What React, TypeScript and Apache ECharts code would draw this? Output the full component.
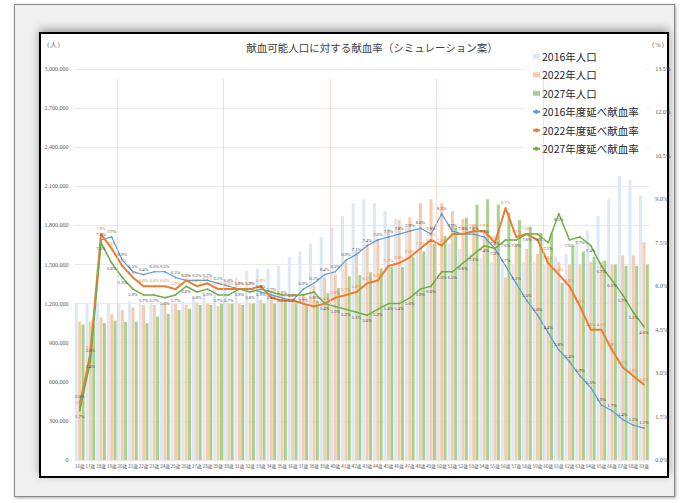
import React, { useEffect, useRef } from "react";
import * as echarts from "echarts";

const categories = [
  "16歳", "17歳", "18歳", "19歳", "20歳", "21歳", "22歳", "23歳", "24歳", "25歳",
  "26歳", "27歳", "28歳", "29歳", "30歳", "31歳", "32歳", "33歳", "34歳", "35歳",
  "36歳", "37歳", "38歳", "39歳", "40歳", "41歳", "42歳", "43歳", "44歳", "45歳",
  "46歳", "47歳", "48歳", "49歳", "50歳", "51歳", "52歳", "53歳", "54歳", "55歳",
  "56歳", "57歳", "58歳", "59歳", "60歳", "61歳", "62歳", "63歳", "64歳", "65歳",
  "66歳", "67歳", "68歳", "69歳",
];

// population (人)
const pop2016 = [
  1200000, 1200000, 1210000, 1205000, 1195000, 1215000, 1195000, 1195000, 1200000, 1205000,
  1215000, 1250000, 1285000, 1320000, 1360000, 1400000, 1450000, 1470000, 1470000, 1490000,
  1560000, 1600000, 1660000, 1710000, 1780000, 1870000, 1970000, 2000000, 1970000, 1910000,
  1850000, 1800000, 1760000, 1700000, 1380000, 1660000, 1620000, 1580000, 1550000, 1520000,
  1500000, 1500000, 1520000, 1520000, 1500000, 1560000, 1580000, 1680000, 1760000, 1870000,
  2000000, 2180000, 2150000, 2030000,
];
const pop2022 = [
  1060000, 1060000, 1095000, 1118000, 1150000, 1170000, 1190000, 1190000, 1200000, 1200000,
  1190000, 1210000, 1200000, 1180000, 1200000, 1200000, 1200000, 1230000, 1230000, 1230000,
  1240000, 1270000, 1340000, 1400000, 1420000, 1530000, 1600000, 1660000, 1700000, 1770000,
  1840000, 1860000, 1970000, 2000000, 1970000, 1910000, 1850000, 1800000, 1760000, 1700000,
  1400000, 1660000, 1620000, 1580000, 1550000, 1520000, 1500000, 1500000, 1520000, 1520000,
  1500000, 1570000, 1570000, 1670000,
];
const pop2027 = [
  1040000, 1040000, 1050000, 1070000, 1060000, 1060000, 1050000, 1100000, 1120000, 1150000,
  1160000, 1190000, 1190000, 1200000, 1200000, 1190000, 1200000, 1200000, 1200000, 1210000,
  1200000, 1200000, 1220000, 1280000, 1320000, 1410000, 1420000, 1440000, 1470000, 1480000,
  1480000, 1560000, 1600000, 1660000, 1720000, 1780000, 1860000, 1960000, 2000000, 1960000,
  1900000, 1840000, 1790000, 1740000, 1740000, 1360000, 1640000, 1600000, 1560000, 1530000,
  1500000, 1490000, 1490000, 1500000,
];

// donation rate (%)
const rate2016 = [
  2.0, 3.6, 7.6, 7.7, 6.9, 6.5, 6.4, 6.5, 6.5, 6.3,
  6.2, 6.2, 6.2, 6.1, 6.0, 5.9, 5.9, 5.8, 5.7, 5.6,
  5.5, 5.9, 6.1, 6.4, 6.5, 6.9, 7.1, 7.4, 7.6, 7.7,
  7.8, 7.9, 8.0, 7.8, 8.5, 7.9, 7.8, 7.8, 7.7, 7.3,
  6.7, 6.1, 5.5, 5.0, 4.4, 3.8, 3.4, 2.9, 2.5, 1.9,
  1.7, 1.4, 1.2, 1.1,
];
const rate2022 = [
  1.8, 3.7, 7.8, 7.3, 6.7, 6.3, 6.0, 6.0, 6.0, 5.9,
  6.2, 6.0, 6.1, 5.9, 5.9, 5.9, 5.9, 6.0, 5.6, 5.5,
  5.5, 5.4, 5.3, 5.4, 5.6, 5.7, 5.8, 6.1, 6.2, 6.7,
  6.8, 7.0, 7.3, 7.6, 7.4, 7.8, 7.8, 7.9, 7.9, 7.5,
  8.7, 7.7, 7.8, 7.6, 6.8, 6.4, 6.0, 5.3, 4.5, 4.5,
  3.8, 3.2, 2.9, 2.6,
];
const rate2027 = [
  1.7, 3.4, 7.5, 6.8, 6.3, 5.9, 5.7, 5.7, 5.6, 5.7,
  6.0, 5.8, 5.9, 5.7, 5.7, 5.9, 5.8, 5.9, 5.8, 5.7,
  5.7, 5.7, 5.8, 5.4, 5.3, 5.2, 5.1, 5.0, 5.2, 5.4,
  5.4, 5.6, 5.9, 6.0, 6.5, 6.5, 6.8, 7.1, 7.4, 7.3,
  7.6, 7.6, 7.8, 7.8, 7.5, 8.5, 7.6, 7.7, 7.4, 6.7,
  6.2, 5.7, 5.1, 4.6,
];

const seriesNames = [
  "2016年人口", "2022年人口", "2027年人口",
  "2016年度延べ献血率", "2022年度延べ献血率", "2027年度延べ献血率",
];
const titleText = "献血可能人口に対する献血率（シミュレーション案）";
const leftAxis = { min: 0, max: 3000000, interval: 300000 };
const rightAxis = { min: 0, max: 13.5, interval: 1.5 };
const decadeStarts = ["20歳", "30歳", "40歳", "50歳", "60歳"];
const boundaryTop = 13.15;

const JP = "'Noto Sans CJK JP', 'Noto Sans', sans-serif";
const SERIF = "'Liberation Serif', 'DejaVu Serif', serif";

export default function App() {
  const ref = useRef<HTMLDivElement>(null);
  useEffect(() => {
    const chart = echarts.init(ref.current!, null, { renderer: "svg" });
    const boundaries = decadeStarts.map((c) => {
      const i = categories.indexOf(c);
      return { coords: [[i, boundaryTop], [i, 0]] };
    });
    const pct = (p: any) => Number(p.value).toFixed(1) + "%";
    const lineLabel = (color: string, position: string) => ({
      show: true,
      position,
      distance: 2,
      fontSize: 4.5,
      fontFamily: SERIF,
      color,
      formatter: pct,
    });
    const lineLegendIcon = "path://M0,4.5 L3.2,4.5 M3.2,3.2 L4.8,3.2 L4.8,5.8 L3.2,5.8 Z M4.8,4.5 L8,4.5";
    chart.setOption({
      animation: false,
      backgroundColor: "transparent",
      graphic: [
        {
          type: "text",
          x: 372,
          y: 47,
          style: {
            text: titleText,
            fontSize: 10.5,
            fontFamily: JP,
            fill: "#404040",
            textAlign: "center",
            textVerticalAlign: "middle",
          },
        },
        {
          type: "text",
          x: 53,
          y: 44,
          style: { text: "（人）", fontSize: 6.5, fontFamily: SERIF, fill: "#595959", textAlign: "center", textVerticalAlign: "middle" },
        },
        {
          type: "text",
          x: 658,
          y: 44,
          style: { text: "（%）", fontSize: 6.5, fontFamily: SERIF, fill: "#595959", textAlign: "center", textVerticalAlign: "middle" },
        },
      ],
      legend: {
        orient: "vertical",
        left: 524,
        top: 47,
        itemGap: 8,
        itemWidth: 7,
        itemHeight: 5,
        padding: [4, 8, 5, 8],
        backgroundColor: "#ffffff",
        data: [
          { name: seriesNames[0], icon: "rect" },
          { name: seriesNames[1], icon: "rect" },
          { name: seriesNames[2], icon: "rect" },
          { name: seriesNames[3] },
          { name: seriesNames[4] },
          { name: seriesNames[5] },
        ],
        textStyle: { fontSize: 10.5, fontFamily: JP, color: "#262626", padding: [0, 0, 0, -3] },
      },
      grid: { left: 74.4, right: 31.7, top: 69, bottom: 43, containLabel: false },
      xAxis: [
        {
          type: "category",
          data: categories,
          axisLine: { show: false },
          axisTick: { show: false },
          axisLabel: { interval: 0, fontSize: 4.5, fontFamily: JP, color: "#595959", margin: 4 },
        },
        { type: "value", min: 0, max: categories.length, show: false },
      ],
      yAxis: [
        {
          type: "value",
          ...leftAxis,
          axisLine: { show: false },
          axisTick: { show: false },
          splitLine: { lineStyle: { color: "#e4e4e4", width: 0.8 } },
          axisLabel: {
            fontSize: 6,
            fontFamily: SERIF,
            color: "#595959",
            margin: 6,
            formatter: (v: number) => v.toLocaleString("en-US"),
          },
        },
        {
          type: "value",
          position: "right",
          ...rightAxis,
          axisLine: { show: false },
          axisTick: { show: false },
          splitLine: { show: false },
          axisLabel: {
            fontSize: 6,
            fontFamily: SERIF,
            color: "#595959",
            margin: 6,
            formatter: (v: number) => v.toFixed(1) + "%",
          },
        },
      ],
      series: [
        { name: seriesNames[0], type: "bar", data: pop2016, barWidth: 3, barGap: "12%", itemStyle: { color: "#dbe8f6" } },
        { name: seriesNames[1], type: "bar", data: pop2022, barWidth: 3, barGap: "12%", itemStyle: { color: "#f8cbad" } },
        { name: seriesNames[2], type: "bar", data: pop2027, barWidth: 3, barGap: "12%", itemStyle: { color: "#a9d18e" } },
        {
          name: seriesNames[3], type: "line", yAxisIndex: 1, data: rate2016,
          symbol: "circle", symbolSize: 1.6, z: 3,
          itemStyle: { color: "#5b9bd5" }, lineStyle: { color: "#5b9bd5", width: 1.2 },
          label: lineLabel("#404040", "top"),
        },
        {
          name: seriesNames[4], type: "line", yAxisIndex: 1, data: rate2022,
          symbol: "circle", symbolSize: 1.6, z: 3,
          itemStyle: { color: "#ed7d31" }, lineStyle: { color: "#ed7d31", width: 2 },
          label: lineLabel("#ed7d31", "top"),
        },
        {
          name: seriesNames[5], type: "line", yAxisIndex: 1, data: rate2027,
          symbol: "circle", symbolSize: 1.6, z: 3,
          itemStyle: { color: "#70ad47" }, lineStyle: { color: "#70ad47", width: 1.5 },
          label: lineLabel("#404040", "bottom"),
        },
        {
          type: "lines",
          coordinateSystem: "cartesian2d",
          xAxisIndex: 1,
          yAxisIndex: 1,
          z: 5,
          silent: true,
          lineStyle: { color: "#f6c0c0", width: 0.6, opacity: 1 },
          data: boundaries,
        },
      ],
    });
    return () => chart.dispose();
  }, []);

  return (
    <div style={{ position: "fixed", left: 0, top: 0, width: 681, height: 503, background: "#ffffff", overflow: "hidden" }}>
      <div
        style={{
          position: "absolute", left: 14, top: 4, width: 661, height: 493,
          background: "#f0f0f0", border: "1px solid #8a8a8a", boxSizing: "border-box",
          boxShadow: "1px 1px 3px rgba(0,0,0,0.35)",
        }}
      />
      <div
        style={{
          position: "absolute", left: 39, top: 32, width: 630, height: 446,
          background: "#ffffff", border: "2px solid #000000", boxSizing: "border-box",
          boxShadow: "0 -3px 8px rgba(0,0,0,0.35)",
        }}
      />
      <div ref={ref} style={{ position: "absolute", left: 0, top: 0, width: 681, height: 503 }} />
    </div>
  );
}
